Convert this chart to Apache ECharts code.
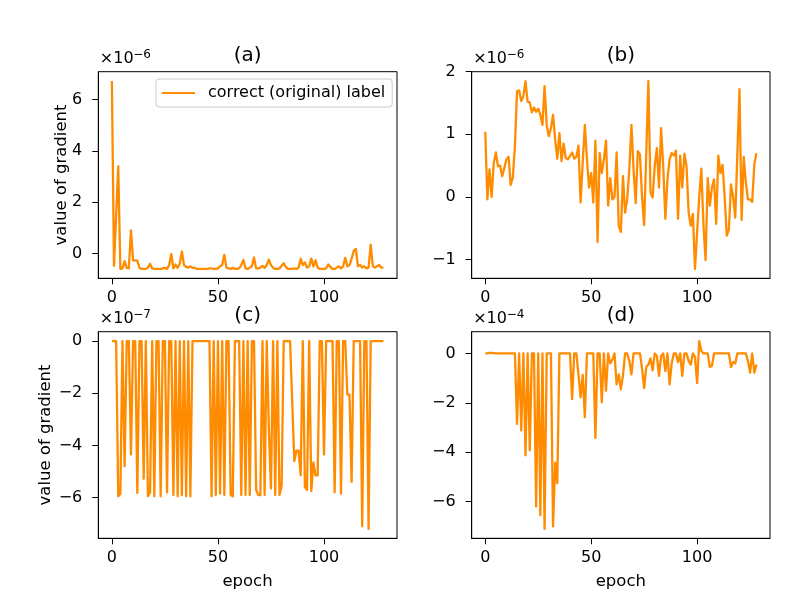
<!DOCTYPE html>
<html>
<head>
<meta charset="utf-8">
<script src="https://cdn.jsdelivr.net/npm/echarts@6/dist/echarts.min.js"></script>
<style>
html, body { margin: 0; padding: 0; background: #fff; }
#main { width: 810px; height: 606px; }
</style>
</head>
<body>
<div id="main"></div>
<script>
// epochs 0..128
var epochs = Array.from({ length: 129 }, function (_, i) { return i; });

// (a) gradient, x1e-6
var gradA = [
  6.72, -0.48, 1.45, 3.4, -0.6, -0.58, -0.3, -0.56, -0.58, 0.9,
  -0.27, -0.27, -0.28, -0.55, -0.6, -0.6, -0.6, -0.55, -0.4, -0.58,
  -0.6, -0.6, -0.6, -0.6, -0.58, -0.56, -0.6, -0.45, -0.02, -0.58,
  -0.43, -0.56, -0.4, 0.08, -0.45, -0.52, -0.55, -0.5, -0.56, -0.55,
  -0.6, -0.6, -0.6, -0.6, -0.6, -0.6, -0.58, -0.58, -0.6, -0.6,
  -0.58, -0.5, -0.45, -0.05, -0.55, -0.58, -0.6, -0.56, -0.6, -0.6,
  -0.58, -0.45, -0.25, -0.58, -0.6, -0.55, -0.5, -0.15, -0.58, -0.58,
  -0.55, -0.48, -0.56, -0.45, -0.24, -0.45, -0.56, -0.6, -0.6, -0.58,
  -0.48, -0.38, -0.52, -0.6, -0.6, -0.6, -0.58, -0.6, -0.55, -0.2,
  -0.45, -0.35, -0.55, -0.5, -0.2, -0.5, -0.27, -0.55, -0.6, -0.6,
  -0.6, -0.58, -0.43, -0.52, -0.6, -0.6, -0.55, -0.5, -0.58, -0.5,
  -0.17, -0.5, -0.45, -0.2, 0.1, 0.18, -0.5, -0.45, -0.55, -0.5,
  -0.58, -0.55, 0.35, -0.5, -0.55, -0.5, -0.45, -0.55, -0.55
];

// (b) gradient, x1e-6
var gradB = [
  1.04, -0.04, 0.44, 0.0, 0.54, 0.71, 0.49, 0.5, 0.33, 0.46,
  0.6, 0.64, 0.19, 0.31, 0.81, 1.69, 1.7, 1.53, 1.61, 1.85,
  1.52, 1.51, 1.35, 1.43, 1.36, 1.41, 1.31, 1.15, 1.77, 1.15,
  0.97, 1.1, 1.31, 0.91, 0.61, 1.02, 0.57, 0.85, 0.62, 0.6,
  0.65, 0.71, 0.61, 0.64, 0.82, -0.09, 0.55, 1.15, 0.6, 0.15,
  0.38, -0.09, 0.9, -0.72, 0.7, 0.38, 0.6, 0.9, -0.14, 0.3,
  -0.04, 0.0, 0.71, -0.46, -0.56, 0.33, -0.25, -0.04, 0.44, 1.15,
  0.44, -0.1, 0.73, 0.68, 0.0, -0.45, 0.7, 1.85, 0.07, -0.01,
  0.5, 0.78, 0.15, 1.1, 0.49, -0.35, 0.28, 0.6, 0.7, 0.66,
  0.74, -0.35, 0.66, 0.15, 0.69, 0.49, -0.25, -0.46, -0.27, -1.15,
  -0.56, 0.0, 0.45, -0.45, -1.01, 0.3, -0.14, 0.15, 0.28, -0.43,
  0.66, 0.38, 0.51, 0.0, -0.62, -0.52, 0.2, 0.0, -0.33, 0.7,
  1.72, -0.37, 0.64, 0.23, -0.04, -0.04, -0.08, 0.52, 0.7
];

// (c) gradient, x1e-7
var gradC = [
  0, 0, 0, -5.95, -5.85, 0, -4.8, 0, 0, -4.35,
  0, 0, -5.82, 0, 0, -5.28, 0, -5.95, -5.8, 0,
  -5.95, 0, 0, -5.95, 0, 0, -5.8, 0, 0, -5.9,
  0, -5.95, 0, -5.9, 0, -5.95, 0, -5.95, 0, 0,
  0, 0, 0, 0, 0, 0, 0, -5.95, 0, -5.9,
  0, -5.85, 0, -5.9, 0, 0, -5.9, -5.95, 0, 0,
  0, -5.9, 0, -5.9, 0, -5.9, 0, 0, -5.7, -5.9,
  -5.9, 0, -5.9, 0, -3.4, -5.65, 0, -5.9, 0, -5.9,
  -5.55, 0, 0, 0, 0, -2.3, -4.6, -4.2, -4.2, -5.15,
  0, -5.6, -5.7, 0, -5.75, -4.65, -5.15, -5.15, 0, 0,
  -4.35, 0, 0, 0, 0, -5.8, 0, 0, -5.85, 0,
  0, -2.05, -2.05, -5.4, 0, 0, 0, 0, -7.1, 0,
  0, -7.2, 0, 0, 0, 0, 0, 0, 0
];

// (d) gradient, x1e-4
var gradD = [
  0, 0, 0.02, 0.02, 0.01, 0, 0, 0, 0, 0,
  0, 0, 0, 0, 0, -2.85, 0, -3.12, 0, -4.12,
  0, -3.92, 0, 0, -6.19, 0, -6.55, 0, -7.1, 0,
  0, 0, -7.0, -4.42, -5.25, 0, 0, 0, 0, 0,
  0, -1.85, 0, 0, -0.85, -1.78, -0.87, -2.58, 0, 0,
  0, 0, -3.42, 0, 0, -1.98, 0, -1.51, 0, -0.4,
  -0.25, 0, -1.25, -0.85, -1.45, -0.9, 0, 0, -0.3, -0.85,
  0, 0, 0, 0, -0.6, -1.4, -0.55, -0.45, -0.2, -0.68,
  0, -0.1, -0.91, -0.1, 0, -0.71, 0, -1.25, -0.4, 0,
  0, -0.35, 0, -0.91, 0, 0, -0.3, -0.45, 0, -0.15,
  -1.2, 0.5, 0.1, 0, 0, 0, -0.55, -0.5, 0, 0,
  0, 0, 0, 0, 0, 0, -0.55, -0.35, -0.4, 0,
  0, 0, 0, 0, -0.3, -0.78, 0, -0.78, -0.45
];

var xTicks = [0, 50, 100];
var yTicksA = [0, 2, 4, 6];
var yTicksB = [-1, 0, 1, 2];
var yTicksC = [-6, -4, -2, 0];
var yTicksD = [-6, -4, -2, 0];
var legendLabel = 'correct (original) label';

var FONT = 'DejaVu Sans';
var ORANGE = '#ff8c00';

// matplotlib-like 5% margins
function padMin(v) { return v.min - 0.05 * (v.max - v.min); }
function padMax(v) { return v.max + 0.05 * (v.max - v.min); }
function fmt(v) { return v < 0 ? '\u2212' + Math.abs(v) : String(v); }

var panels = [
  { name: legendLabel, title: '(a)', exp: '\u22126', data: gradA, ticks: yTicksA, left: 98.3, top: 71.7, width: 298.7 },
  { name: 'b', title: '(b)', exp: '\u22126', data: gradB, ticks: yTicksB, left: 471.7, top: 71.7, width: 298.3 },
  { name: 'c', title: '(c)', exp: '\u22127', data: gradC, ticks: yTicksC, left: 98.3, top: 331.7, width: 298.7 },
  { name: 'd', title: '(d)', exp: '\u22124', data: gradD, ticks: yTicksD, left: 471.7, top: 331.7, width: 298.3 }
];
var H = 206.6;

function txt(x, y, s, size, extra) {
  var el = {
    type: 'text', x: x, y: y, silent: true,
    style: {
      text: s, fill: '#000', font: size + 'px "' + FONT + '"',
      align: 'center', verticalAlign: 'middle',
      textAlign: 'center', textVerticalAlign: 'middle'
    }
  };
  if (extra) {
    for (var k in extra.style || {}) el.style[k] = extra.style[k];
    if (extra.rotation) el.rotation = extra.rotation;
  }
  return el;
}

var grids = [], xAxes = [], yAxes = [], series = [], graphics = [];

panels.forEach(function (p, i) {
  grids.push({
    left: p.left, top: p.top, width: p.width, height: H,
    show: true, borderColor: '#000', borderWidth: 1, backgroundColor: '#fff'
  });
  xAxes.push({
    type: 'value', gridIndex: i, min: padMin, max: padMax,
    axisLine: { show: true, onZero: false, lineStyle: { color: '#000', width: 1 } },
    axisTick: { show: true, length: 6, customValues: xTicks, lineStyle: { color: '#000' } },
    axisLabel: { customValues: xTicks, formatter: fmt, margin: 12, color: '#000', fontFamily: FONT, fontSize: 16 },
    splitLine: { show: false }
  });
  yAxes.push({
    type: 'value', gridIndex: i, min: padMin, max: padMax,
    axisLine: { show: true, onZero: false, lineStyle: { color: '#000', width: 1 } },
    axisTick: { show: true, length: 6, customValues: p.ticks, lineStyle: { color: '#000' } },
    axisLabel: { customValues: p.ticks, formatter: fmt, margin: 16, color: '#000', fontFamily: FONT, fontSize: 16 },
    splitLine: { show: false }
  });
  series.push({
    name: p.name, type: 'line', xAxisIndex: i, yAxisIndex: i,
    data: epochs.map(function (e, j) { return [e, p.data[j]]; }),
    symbol: 'none', color: ORANGE,
    lineStyle: { color: ORANGE, width: 2.3, join: 'round' },
    animation: false
  });

  // panel title
  graphics.push(txt(p.left + p.width / 2, p.top - 15.5, p.title, 20));
  // offset text x10^n
  var oy = p.top - 12.8;
  graphics.push(txt(p.left + 1.5, oy, '\u00d710', 16, { style: { align: 'left', textAlign: 'left' } }));
  graphics.push(txt(p.left + 35, oy - 4.5, p.exp, 12, { style: { align: 'left', textAlign: 'left' } }));
});

// axis names
graphics.push(txt(62, 175, 'value of gradient', 16.5, { rotation: Math.PI / 2 }));
graphics.push(txt(45.8, 435, 'value of gradient', 16.5, { rotation: Math.PI / 2 }));
graphics.push(txt(247.5, 582, 'epoch', 16.5));
graphics.push(txt(620.8, 582, 'epoch', 16.5));

var chart = echarts.init(document.getElementById('main'));
chart.setOption({
  backgroundColor: '#fff',
  animation: false,
  grid: grids,
  xAxis: xAxes,
  yAxis: yAxes,
  series: series,
  legend: {
    data: [legendLabel],
    left: 156, top: 79,
    padding: [6, 7, 6, 6],
    backgroundColor: 'rgba(255,255,255,0.8)',
    borderColor: '#cccccc', borderWidth: 1, borderRadius: 3,
    icon: 'rect', itemWidth: 33, itemHeight: 2,
    textStyle: { color: '#000', fontFamily: FONT, fontSize: 16, padding: [0, 0, 0, 8] }
  },
  graphic: graphics
});
</script>
</body>
</html>
